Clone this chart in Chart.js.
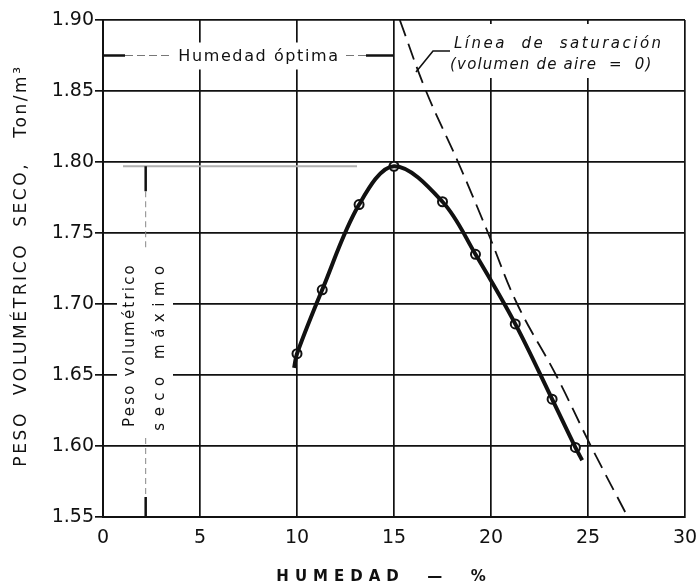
<!DOCTYPE html>
<html>
<head>
<meta charset="utf-8">
<script src="https://cdn.jsdelivr.net/npm/chart.js@4.4.1/dist/chart.umd.min.js"></script>
<style>
  html, body { margin: 0; padding: 0; background: #fff; }
  canvas { display: block; }
</style>
</head>
<body>
<canvas id="chart" width="696" height="584"></canvas>
<script>
// ===============================
// DATA
// ===============================
const xTicks = [0, 5, 10, 15, 20, 25, 30];
const yTicks = [1.55, 1.60, 1.65, 1.70, 1.75, 1.80, 1.85, 1.90];

// ensayos de compactacion (circulos)
const humedad = [10, 11.3, 13.2, 15, 17.5, 19.2, 21.25, 23.15, 24.35];
const pesoSeco = [1.665, 1.710, 1.770, 1.797, 1.772, 1.735, 1.686, 1.633, 1.599];

// extremos de la curva dibujada a mano
const curvaInicio = [9.85, 1.655];
const curvaFin = [24.7, 1.590];

// linea de saturacion (volumen de aire = 0)
const satHumedad = [15.3, 16.65, 18.3, 19.85, 21.35, 23.35, 25.15, 27.05];
const satPeso = [1.90, 1.85, 1.80, 1.75, 1.70, 1.65, 1.60, 1.55];

const humedadOptima = 15;
const pesoMaximo = 1.797;

const INK = "#111";
const FONT = "'DejaVu Sans', sans-serif";

const curva = [{ x: curvaInicio[0], y: curvaInicio[1] }]
    .concat(humedad.map((h, i) => ({ x: h, y: pesoSeco[i] })))
    .concat([{ x: curvaFin[0], y: curvaFin[1] }]);

// ===============================
// ANOTACIONES
// ===============================
function whiteBox(ctx, x, y, w, h) {
    ctx.save();
    ctx.fillStyle = "#fff";
    ctx.fillRect(x, y, w, h);
    ctx.restore();
}

function line(ctx, pts, width, color, dash) {
    ctx.save();
    ctx.beginPath();
    ctx.lineWidth = width;
    ctx.strokeStyle = color;
    ctx.setLineDash(dash || []);
    ctx.moveTo(pts[0][0], pts[0][1]);
    for (let i = 1; i < pts.length; i++) ctx.lineTo(pts[i][0], pts[i][1]);
    ctx.stroke();
    ctx.restore();
}

const notes = {
    id: "notes",
    beforeDatasetsDraw(chart) {
        const { ctx, scales: { x, y } } = chart;
        const left = x.getPixelForValue(0);
        const bottom = y.getPixelForValue(1.55);
        const optX = x.getPixelForValue(humedadOptima);
        const rowY = y.getPixelForValue(1.875);
        const maxY = y.getPixelForValue(pesoMaximo);
        const vx = x.getPixelForValue(2.2);

        ctx.save();
        ctx.fillStyle = INK;
        ctx.textBaseline = "middle";

        // Humedad optima
        whiteBox(ctx, 170, rowY - 13, 176, 27);
        line(ctx, [[left, rowY], [left + 22, rowY]], 2.5, INK);
        line(ctx, [[left + 22, rowY], [170, rowY]], 1, "#777", [8, 4]);
        line(ctx, [[346, rowY], [366, rowY]], 1, "#777", [8, 4]);
        line(ctx, [[366, rowY], [optX, rowY]], 2.5, INK);
        ctx.font = "16px " + FONT;
        ctx.letterSpacing = "1.6px";
        ctx.textAlign = "center";
        ctx.fillText("Humedad óptima", 259, rowY + 1);

        // Linea de saturacion
        whiteBox(ctx, 444, 24, 222, 54);
        ctx.font = "italic 15px " + FONT;
        ctx.letterSpacing = "2.5px";
        ctx.textAlign = "left";
        ctx.fillText("Línea  de  saturación", 454, 44);
        ctx.letterSpacing = "1.2px";
        ctx.fillText("(volumen de aire  =  0)", 450, 65);
        line(ctx, [[416, 72], [433, 51], [450, 51]], 1.6, INK);

        // Peso volumetrico seco maximo
        line(ctx, [[123, maxY], [357, maxY]], 2, "#b0b0b0");
        whiteBox(ctx, 117, 250, 56, 188);
        line(ctx, [[vx, maxY], [vx, maxY + 25]], 2.5, INK);
        line(ctx, [[vx, maxY + 25], [vx, 250]], 1, "#888", [6, 4]);
        line(ctx, [[vx, 438], [vx, bottom - 20]], 1, "#888", [6, 4]);
        line(ctx, [[vx, bottom - 20], [vx, bottom]], 2.5, INK);

        ctx.translate(130, 345);
        ctx.rotate(-Math.PI / 2);
        ctx.textAlign = "center";
        ctx.font = "15px " + FONT;
        ctx.letterSpacing = "2.2px";
        ctx.fillText("Peso volumétrico", 0, 0);
        ctx.letterSpacing = "6.5px";
        ctx.fillText("seco máximo", 0, 30);

        ctx.restore();
    },
    afterDraw(chart) {
        const { ctx, chartArea } = chart;
        ctx.save();
        ctx.fillStyle = INK;
        ctx.textAlign = "center";
        ctx.textBaseline = "middle";

        ctx.font = "bold 15px " + FONT;
        ctx.letterSpacing = "6px";
        ctx.fillText("HUMEDAD  —  %", 384, 577);

        ctx.translate(22, (chartArea.top + chartArea.bottom) / 2 - 3);
        ctx.rotate(-Math.PI / 2);
        ctx.font = "17px " + FONT;
        ctx.letterSpacing = "2.6px";
        ctx.fillText("PESO  VOLUMÉTRICO  SECO,   Ton/m³", 0, 0);
        ctx.restore();
    }
};

// ===============================
// CHART
// ===============================
new Chart(document.getElementById("chart"), {
    type: "scatter",
    data: {
        datasets: [
            {
                label: "Saturación",
                data: satHumedad.map((h, i) => ({ x: h, y: satPeso[i] })),
                showLine: true,
                borderColor: INK,
                borderWidth: 1.8,
                borderDash: [17, 8],
                tension: 0.4,
                pointRadius: 0,
                clip: false
            },
            {
                label: "Curva",
                data: curva,
                showLine: true,
                borderColor: INK,
                borderWidth: 4,
                tension: 0.35,
                pointRadius: 0
            },
            {
                label: "Ensayos",
                data: humedad.map((h, i) => ({ x: h, y: pesoSeco[i] })),
                pointRadius: 4.5,
                pointBackgroundColor: "#fff",
                pointBorderColor: INK,
                pointBorderWidth: 2
            }
        ]
    },
    options: {
        responsive: false,
        animation: false,
        layout: { padding: { top: 20, right: 11, left: 0, bottom: 0 } },
        plugins: {
            legend: { display: false },
            tooltip: { enabled: false }
        },
        scales: {
            x: {
                type: "linear",
                min: xTicks[0],
                max: xTicks[xTicks.length - 1],
                afterBuildTicks: s => { s.ticks = xTicks.map(v => ({ value: v })); },
                afterFit: s => { s.height = 67; s.paddingLeft = 0; s.paddingRight = 0; },
                ticks: { color: INK, font: { family: FONT, size: 19 }, padding: 10 },
                grid: { color: INK, lineWidth: 1.7, drawTicks: false },
                border: { color: INK, width: 2 }
            },
            y: {
                type: "linear",
                min: yTicks[0],
                max: yTicks[yTicks.length - 1],
                afterBuildTicks: s => { s.ticks = yTicks.map(v => ({ value: v })); },
                afterFit: s => { s.width = 103; },
                ticks: {
                    color: INK,
                    font: { family: FONT, size: 19 },
                    padding: 1,
                    callback: v => v.toFixed(2)
                },
                grid: { color: INK, lineWidth: 1.7, tickLength: 8 },
                border: { color: INK, width: 2 }
            }
        }
    },
    plugins: [notes]
});
</script>
</body>
</html>
